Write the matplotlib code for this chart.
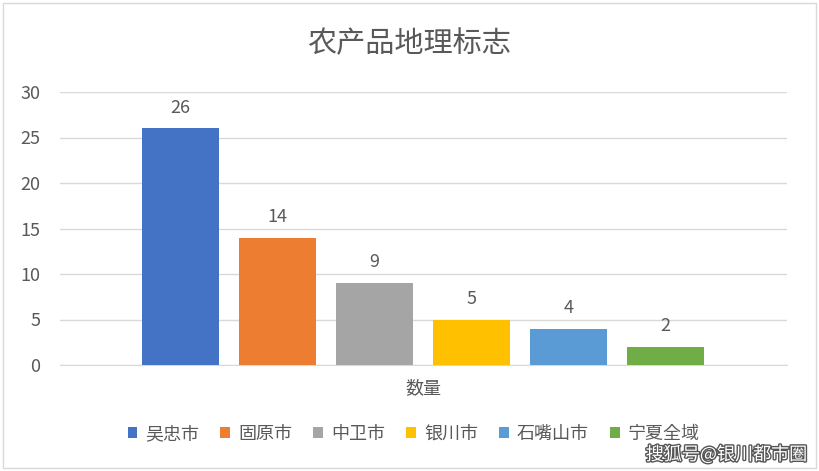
import matplotlib.pyplot as plt
import matplotlib.patheffects as pe
from matplotlib.patches import Rectangle

plt.rcParams['font.family'] = 'sans-serif'
plt.rcParams['font.sans-serif'] = ['Noto Sans CJK SC', 'Noto Sans CJK JP', 'Noto Sans CJK TC',
                                   'Noto Sans CJK KR', 'DejaVu Sans']

regions = ['吴忠市', '固原市', '中卫市', '银川市', '石嘴山市', '宁夏全域']
counts = [26, 14, 9, 5, 4, 2]
colors = ['#4472C4', '#ED7D31', '#A5A5A5', '#FFC000', '#5B9BD5', '#70AD47']
yticks = [0, 5, 10, 15, 20, 25, 30]

fig = plt.figure(figsize=(8.19, 4.71), dpi=100)
fig.patches.append(Rectangle((0.004, 0.006), 0.992, 0.988, transform=fig.transFigure,
                             fill=False, edgecolor='#D9D9D9', linewidth=1))
ax = fig.add_axes([60 / 819, 1 - 365 / 471, 727 / 819, 273 / 471])

for i, (name, v, c) in enumerate(zip(regions, counts, colors)):
    ax.bar(i, v, width=0.79, color=c, label=name, zorder=3)
    ax.text(i, v + 1.3, str(v), ha='center', va='bottom', fontsize=13, color='#595959')

ax.set_xlim(-1.24, 6.25)
ax.set_ylim(0, 30)
ax.set_yticks(yticks)
ax.tick_params(axis='y', length=0, labelsize=13, labelcolor='#595959', pad=14)
ax.set_xticks([])
ax.grid(axis='y', color='#D9D9D9', linewidth=1, zorder=0)
for s in ['top', 'right', 'left']:
    ax.spines[s].set_visible(False)
ax.spines['bottom'].set_color('#D9D9D9')

fig.text(0.5, 1 - 44 / 471, '农产品地理标志', ha='center', va='center', fontsize=21, color='#595959')
fig.text(423 / 819, 1 - 388 / 471, '数量', ha='center', va='center', fontsize=13, color='#595959')

fig.legend(loc='center', bbox_to_anchor=(0.505, 1 - 434 / 471), ncol=6, frameon=False,
           fontsize=13, handlelength=0.55, handleheight=0.55, handletextpad=0.45,
           columnspacing=1.15, labelcolor='#595959')

fig.text(0.985, 0.015, '搜狐号@银川都市圈', ha='right', va='bottom', fontsize=13,
         color='white', path_effects=[pe.withStroke(linewidth=2, foreground='#555555')])

fig.savefig('out.png', dpi=100)
